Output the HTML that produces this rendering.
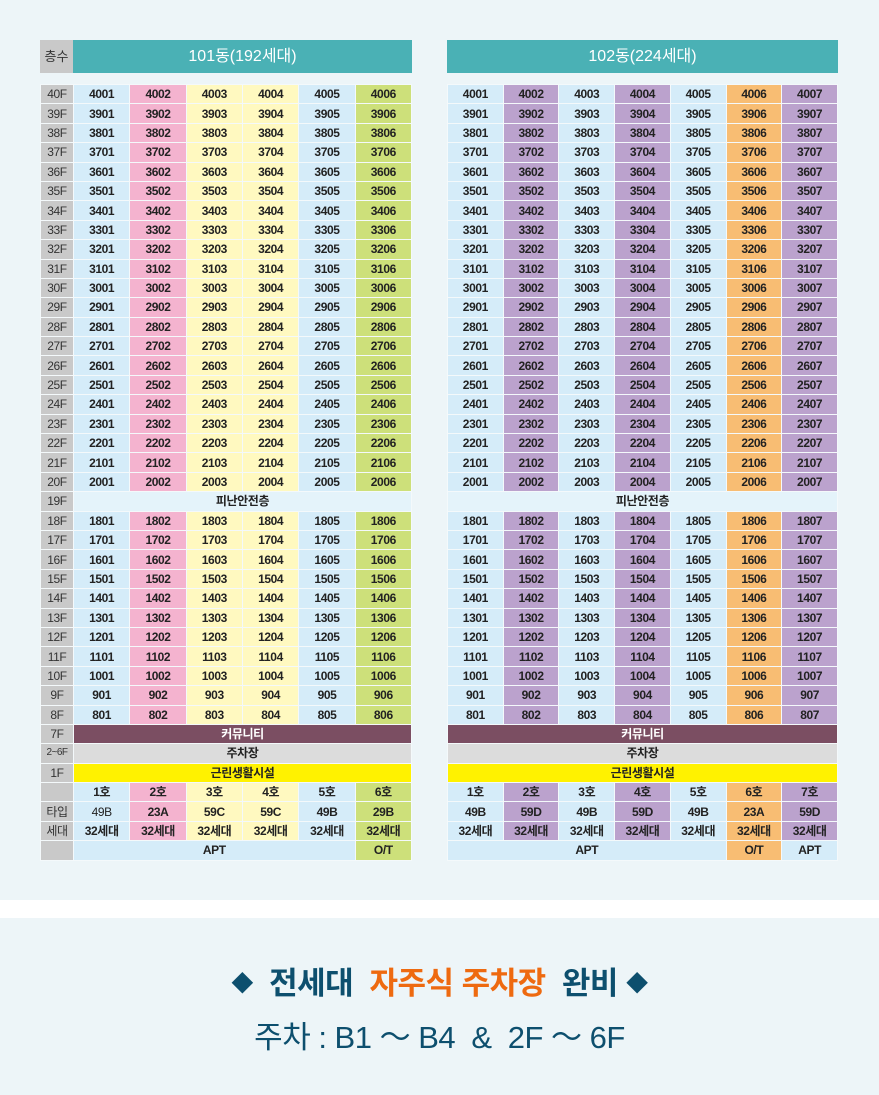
<!DOCTYPE html>
<html><head><meta charset="utf-8"><style>
body{margin:0;width:879px;height:1095px;background:#edf5f8;position:relative;overflow:hidden;font-family:"Liberation Sans","Noto Sans CJK KR",sans-serif}
.h{position:absolute;top:40px;height:33px;line-height:33px;text-align:center;color:#fff;font-size:16px;background:#4ab1b5}
table{position:absolute;top:84px;border-collapse:collapse;table-layout:fixed}
tr{height:19.4px}
td{padding:0;height:19.4px;line-height:16px;text-align:center;font-size:12px;font-weight:bold;color:#222;border:1px solid #f4f9fb;letter-spacing:-0.4px;white-space:nowrap;overflow:hidden;box-sizing:border-box}
td.f{background:#c9c9c9;font-weight:normal;color:#333}
.b{background:#d5ecf9}.p{background:#f4b3cf}.y{background:#fff9c0}.g{background:#cde07a}.u{background:#bba2cd}.o{background:#f8bd73}
.s{background:#e4f3fa}.c{background:#7b4e62;color:#fff}.k{background:#dcdcdc}.l{background:#fff200}
.w{position:absolute;left:0;top:900px;width:879px;height:18px;background:#fff}
.t1{position:absolute;top:958px;width:879px;text-align:center;font-size:31px;font-weight:bold;color:#0d4f6e;letter-spacing:-0.5px}
.t1 .d{font-size:22px;vertical-align:3px}
.t2{position:absolute;top:1012px;width:879px;text-align:center;font-size:31px;color:#0d4f6e;letter-spacing:-0.5px}
</style></head><body>
<div class="h" style="left:40px;width:33px;background:#c9c9c9;color:#333;font-size:13px">층수</div>
<div class="h" style="left:73px;width:339px">101동(192세대)</div>
<div class="h" style="left:447px;width:391px">102동(224세대)</div>

<table style="left:40px;width:372px">
<colgroup><col style="width:33px"><col><col><col><col><col><col></colgroup>
<tr><td class="f">40F</td><td class="b">4001</td><td class="p">4002</td><td class="y">4003</td><td class="y">4004</td><td class="b">4005</td><td class="g">4006</td></tr>
<tr><td class="f">39F</td><td class="b">3901</td><td class="p">3902</td><td class="y">3903</td><td class="y">3904</td><td class="b">3905</td><td class="g">3906</td></tr>
<tr><td class="f">38F</td><td class="b">3801</td><td class="p">3802</td><td class="y">3803</td><td class="y">3804</td><td class="b">3805</td><td class="g">3806</td></tr>
<tr><td class="f">37F</td><td class="b">3701</td><td class="p">3702</td><td class="y">3703</td><td class="y">3704</td><td class="b">3705</td><td class="g">3706</td></tr>
<tr><td class="f">36F</td><td class="b">3601</td><td class="p">3602</td><td class="y">3603</td><td class="y">3604</td><td class="b">3605</td><td class="g">3606</td></tr>
<tr><td class="f">35F</td><td class="b">3501</td><td class="p">3502</td><td class="y">3503</td><td class="y">3504</td><td class="b">3505</td><td class="g">3506</td></tr>
<tr><td class="f">34F</td><td class="b">3401</td><td class="p">3402</td><td class="y">3403</td><td class="y">3404</td><td class="b">3405</td><td class="g">3406</td></tr>
<tr><td class="f">33F</td><td class="b">3301</td><td class="p">3302</td><td class="y">3303</td><td class="y">3304</td><td class="b">3305</td><td class="g">3306</td></tr>
<tr><td class="f">32F</td><td class="b">3201</td><td class="p">3202</td><td class="y">3203</td><td class="y">3204</td><td class="b">3205</td><td class="g">3206</td></tr>
<tr><td class="f">31F</td><td class="b">3101</td><td class="p">3102</td><td class="y">3103</td><td class="y">3104</td><td class="b">3105</td><td class="g">3106</td></tr>
<tr><td class="f">30F</td><td class="b">3001</td><td class="p">3002</td><td class="y">3003</td><td class="y">3004</td><td class="b">3005</td><td class="g">3006</td></tr>
<tr><td class="f">29F</td><td class="b">2901</td><td class="p">2902</td><td class="y">2903</td><td class="y">2904</td><td class="b">2905</td><td class="g">2906</td></tr>
<tr><td class="f">28F</td><td class="b">2801</td><td class="p">2802</td><td class="y">2803</td><td class="y">2804</td><td class="b">2805</td><td class="g">2806</td></tr>
<tr><td class="f">27F</td><td class="b">2701</td><td class="p">2702</td><td class="y">2703</td><td class="y">2704</td><td class="b">2705</td><td class="g">2706</td></tr>
<tr><td class="f">26F</td><td class="b">2601</td><td class="p">2602</td><td class="y">2603</td><td class="y">2604</td><td class="b">2605</td><td class="g">2606</td></tr>
<tr><td class="f">25F</td><td class="b">2501</td><td class="p">2502</td><td class="y">2503</td><td class="y">2504</td><td class="b">2505</td><td class="g">2506</td></tr>
<tr><td class="f">24F</td><td class="b">2401</td><td class="p">2402</td><td class="y">2403</td><td class="y">2404</td><td class="b">2405</td><td class="g">2406</td></tr>
<tr><td class="f">23F</td><td class="b">2301</td><td class="p">2302</td><td class="y">2303</td><td class="y">2304</td><td class="b">2305</td><td class="g">2306</td></tr>
<tr><td class="f">22F</td><td class="b">2201</td><td class="p">2202</td><td class="y">2203</td><td class="y">2204</td><td class="b">2205</td><td class="g">2206</td></tr>
<tr><td class="f">21F</td><td class="b">2101</td><td class="p">2102</td><td class="y">2103</td><td class="y">2104</td><td class="b">2105</td><td class="g">2106</td></tr>
<tr><td class="f">20F</td><td class="b">2001</td><td class="p">2002</td><td class="y">2003</td><td class="y">2004</td><td class="b">2005</td><td class="g">2006</td></tr>
<tr><td class="f">19F</td><td class="s" colspan="6">피난안전층</td></tr>
<tr><td class="f">18F</td><td class="b">1801</td><td class="p">1802</td><td class="y">1803</td><td class="y">1804</td><td class="b">1805</td><td class="g">1806</td></tr>
<tr><td class="f">17F</td><td class="b">1701</td><td class="p">1702</td><td class="y">1703</td><td class="y">1704</td><td class="b">1705</td><td class="g">1706</td></tr>
<tr><td class="f">16F</td><td class="b">1601</td><td class="p">1602</td><td class="y">1603</td><td class="y">1604</td><td class="b">1605</td><td class="g">1606</td></tr>
<tr><td class="f">15F</td><td class="b">1501</td><td class="p">1502</td><td class="y">1503</td><td class="y">1504</td><td class="b">1505</td><td class="g">1506</td></tr>
<tr><td class="f">14F</td><td class="b">1401</td><td class="p">1402</td><td class="y">1403</td><td class="y">1404</td><td class="b">1405</td><td class="g">1406</td></tr>
<tr><td class="f">13F</td><td class="b">1301</td><td class="p">1302</td><td class="y">1303</td><td class="y">1304</td><td class="b">1305</td><td class="g">1306</td></tr>
<tr><td class="f">12F</td><td class="b">1201</td><td class="p">1202</td><td class="y">1203</td><td class="y">1204</td><td class="b">1205</td><td class="g">1206</td></tr>
<tr><td class="f">11F</td><td class="b">1101</td><td class="p">1102</td><td class="y">1103</td><td class="y">1104</td><td class="b">1105</td><td class="g">1106</td></tr>
<tr><td class="f">10F</td><td class="b">1001</td><td class="p">1002</td><td class="y">1003</td><td class="y">1004</td><td class="b">1005</td><td class="g">1006</td></tr>
<tr><td class="f">9F</td><td class="b">901</td><td class="p">902</td><td class="y">903</td><td class="y">904</td><td class="b">905</td><td class="g">906</td></tr>
<tr><td class="f">8F</td><td class="b">801</td><td class="p">802</td><td class="y">803</td><td class="y">804</td><td class="b">805</td><td class="g">806</td></tr>
<tr><td class="f">7F</td><td class="c" colspan="6">커뮤니티</td></tr>
<tr><td class="f" style="font-size:10px;letter-spacing:-0.5px">2~6F</td><td class="k" colspan="6">주차장</td></tr>
<tr><td class="f">1F</td><td class="l" colspan="6">근린생활시설</td></tr>
<tr><td class="f"></td><td class="b">1호</td><td class="p">2호</td><td class="y">3호</td><td class="y">4호</td><td class="b">5호</td><td class="g">6호</td></tr>
<tr><td class="f">타입</td><td class="b" style="font-weight:normal">49B</td><td class="p">23A</td><td class="y">59C</td><td class="y">59C</td><td class="b">49B</td><td class="g">29B</td></tr>
<tr><td class="f">세대</td><td class="b">32세대</td><td class="p">32세대</td><td class="y">32세대</td><td class="y">32세대</td><td class="b">32세대</td><td class="g">32세대</td></tr>
<tr><td class="f"></td><td class="b" colspan="5">APT</td><td class="g">O/T</td></tr>
</table>

<table style="left:447px;width:391px">
<tr><td class="b">4001</td><td class="u">4002</td><td class="b">4003</td><td class="u">4004</td><td class="b">4005</td><td class="o">4006</td><td class="u">4007</td></tr>
<tr><td class="b">3901</td><td class="u">3902</td><td class="b">3903</td><td class="u">3904</td><td class="b">3905</td><td class="o">3906</td><td class="u">3907</td></tr>
<tr><td class="b">3801</td><td class="u">3802</td><td class="b">3803</td><td class="u">3804</td><td class="b">3805</td><td class="o">3806</td><td class="u">3807</td></tr>
<tr><td class="b">3701</td><td class="u">3702</td><td class="b">3703</td><td class="u">3704</td><td class="b">3705</td><td class="o">3706</td><td class="u">3707</td></tr>
<tr><td class="b">3601</td><td class="u">3602</td><td class="b">3603</td><td class="u">3604</td><td class="b">3605</td><td class="o">3606</td><td class="u">3607</td></tr>
<tr><td class="b">3501</td><td class="u">3502</td><td class="b">3503</td><td class="u">3504</td><td class="b">3505</td><td class="o">3506</td><td class="u">3507</td></tr>
<tr><td class="b">3401</td><td class="u">3402</td><td class="b">3403</td><td class="u">3404</td><td class="b">3405</td><td class="o">3406</td><td class="u">3407</td></tr>
<tr><td class="b">3301</td><td class="u">3302</td><td class="b">3303</td><td class="u">3304</td><td class="b">3305</td><td class="o">3306</td><td class="u">3307</td></tr>
<tr><td class="b">3201</td><td class="u">3202</td><td class="b">3203</td><td class="u">3204</td><td class="b">3205</td><td class="o">3206</td><td class="u">3207</td></tr>
<tr><td class="b">3101</td><td class="u">3102</td><td class="b">3103</td><td class="u">3104</td><td class="b">3105</td><td class="o">3106</td><td class="u">3107</td></tr>
<tr><td class="b">3001</td><td class="u">3002</td><td class="b">3003</td><td class="u">3004</td><td class="b">3005</td><td class="o">3006</td><td class="u">3007</td></tr>
<tr><td class="b">2901</td><td class="u">2902</td><td class="b">2903</td><td class="u">2904</td><td class="b">2905</td><td class="o">2906</td><td class="u">2907</td></tr>
<tr><td class="b">2801</td><td class="u">2802</td><td class="b">2803</td><td class="u">2804</td><td class="b">2805</td><td class="o">2806</td><td class="u">2807</td></tr>
<tr><td class="b">2701</td><td class="u">2702</td><td class="b">2703</td><td class="u">2704</td><td class="b">2705</td><td class="o">2706</td><td class="u">2707</td></tr>
<tr><td class="b">2601</td><td class="u">2602</td><td class="b">2603</td><td class="u">2604</td><td class="b">2605</td><td class="o">2606</td><td class="u">2607</td></tr>
<tr><td class="b">2501</td><td class="u">2502</td><td class="b">2503</td><td class="u">2504</td><td class="b">2505</td><td class="o">2506</td><td class="u">2507</td></tr>
<tr><td class="b">2401</td><td class="u">2402</td><td class="b">2403</td><td class="u">2404</td><td class="b">2405</td><td class="o">2406</td><td class="u">2407</td></tr>
<tr><td class="b">2301</td><td class="u">2302</td><td class="b">2303</td><td class="u">2304</td><td class="b">2305</td><td class="o">2306</td><td class="u">2307</td></tr>
<tr><td class="b">2201</td><td class="u">2202</td><td class="b">2203</td><td class="u">2204</td><td class="b">2205</td><td class="o">2206</td><td class="u">2207</td></tr>
<tr><td class="b">2101</td><td class="u">2102</td><td class="b">2103</td><td class="u">2104</td><td class="b">2105</td><td class="o">2106</td><td class="u">2107</td></tr>
<tr><td class="b">2001</td><td class="u">2002</td><td class="b">2003</td><td class="u">2004</td><td class="b">2005</td><td class="o">2006</td><td class="u">2007</td></tr>
<tr><td class="s" colspan="7">피난안전층</td></tr>
<tr><td class="b">1801</td><td class="u">1802</td><td class="b">1803</td><td class="u">1804</td><td class="b">1805</td><td class="o">1806</td><td class="u">1807</td></tr>
<tr><td class="b">1701</td><td class="u">1702</td><td class="b">1703</td><td class="u">1704</td><td class="b">1705</td><td class="o">1706</td><td class="u">1707</td></tr>
<tr><td class="b">1601</td><td class="u">1602</td><td class="b">1603</td><td class="u">1604</td><td class="b">1605</td><td class="o">1606</td><td class="u">1607</td></tr>
<tr><td class="b">1501</td><td class="u">1502</td><td class="b">1503</td><td class="u">1504</td><td class="b">1505</td><td class="o">1506</td><td class="u">1507</td></tr>
<tr><td class="b">1401</td><td class="u">1402</td><td class="b">1403</td><td class="u">1404</td><td class="b">1405</td><td class="o">1406</td><td class="u">1407</td></tr>
<tr><td class="b">1301</td><td class="u">1302</td><td class="b">1303</td><td class="u">1304</td><td class="b">1305</td><td class="o">1306</td><td class="u">1307</td></tr>
<tr><td class="b">1201</td><td class="u">1202</td><td class="b">1203</td><td class="u">1204</td><td class="b">1205</td><td class="o">1206</td><td class="u">1207</td></tr>
<tr><td class="b">1101</td><td class="u">1102</td><td class="b">1103</td><td class="u">1104</td><td class="b">1105</td><td class="o">1106</td><td class="u">1107</td></tr>
<tr><td class="b">1001</td><td class="u">1002</td><td class="b">1003</td><td class="u">1004</td><td class="b">1005</td><td class="o">1006</td><td class="u">1007</td></tr>
<tr><td class="b">901</td><td class="u">902</td><td class="b">903</td><td class="u">904</td><td class="b">905</td><td class="o">906</td><td class="u">907</td></tr>
<tr><td class="b">801</td><td class="u">802</td><td class="b">803</td><td class="u">804</td><td class="b">805</td><td class="o">806</td><td class="u">807</td></tr>
<tr><td class="c" colspan="7">커뮤니티</td></tr>
<tr><td class="k" colspan="7">주차장</td></tr>
<tr><td class="l" colspan="7">근린생활시설</td></tr>
<tr><td class="b">1호</td><td class="u">2호</td><td class="b">3호</td><td class="u">4호</td><td class="b">5호</td><td class="o">6호</td><td class="u">7호</td></tr>
<tr><td class="b">49B</td><td class="u">59D</td><td class="b">49B</td><td class="u">59D</td><td class="b">49B</td><td class="o">23A</td><td class="u">59D</td></tr>
<tr><td class="b">32세대</td><td class="u">32세대</td><td class="b">32세대</td><td class="u">32세대</td><td class="b">32세대</td><td class="o">32세대</td><td class="u">32세대</td></tr>
<tr><td class="b" colspan="5">APT</td><td class="o">O/T</td><td class="b">APT</td></tr>
</table>

<div class="w"></div>
<div class="t1"><span class="d">◆</span> &nbsp;전세대 &nbsp;<span style="color:#ee6a10">자주식 주차장</span> &nbsp;완비 <span class="d">◆</span></div>
<div class="t2">주차 : B1 ～ B4 &nbsp;&amp; &nbsp;2F ～ 6F</div>
</body></html>
